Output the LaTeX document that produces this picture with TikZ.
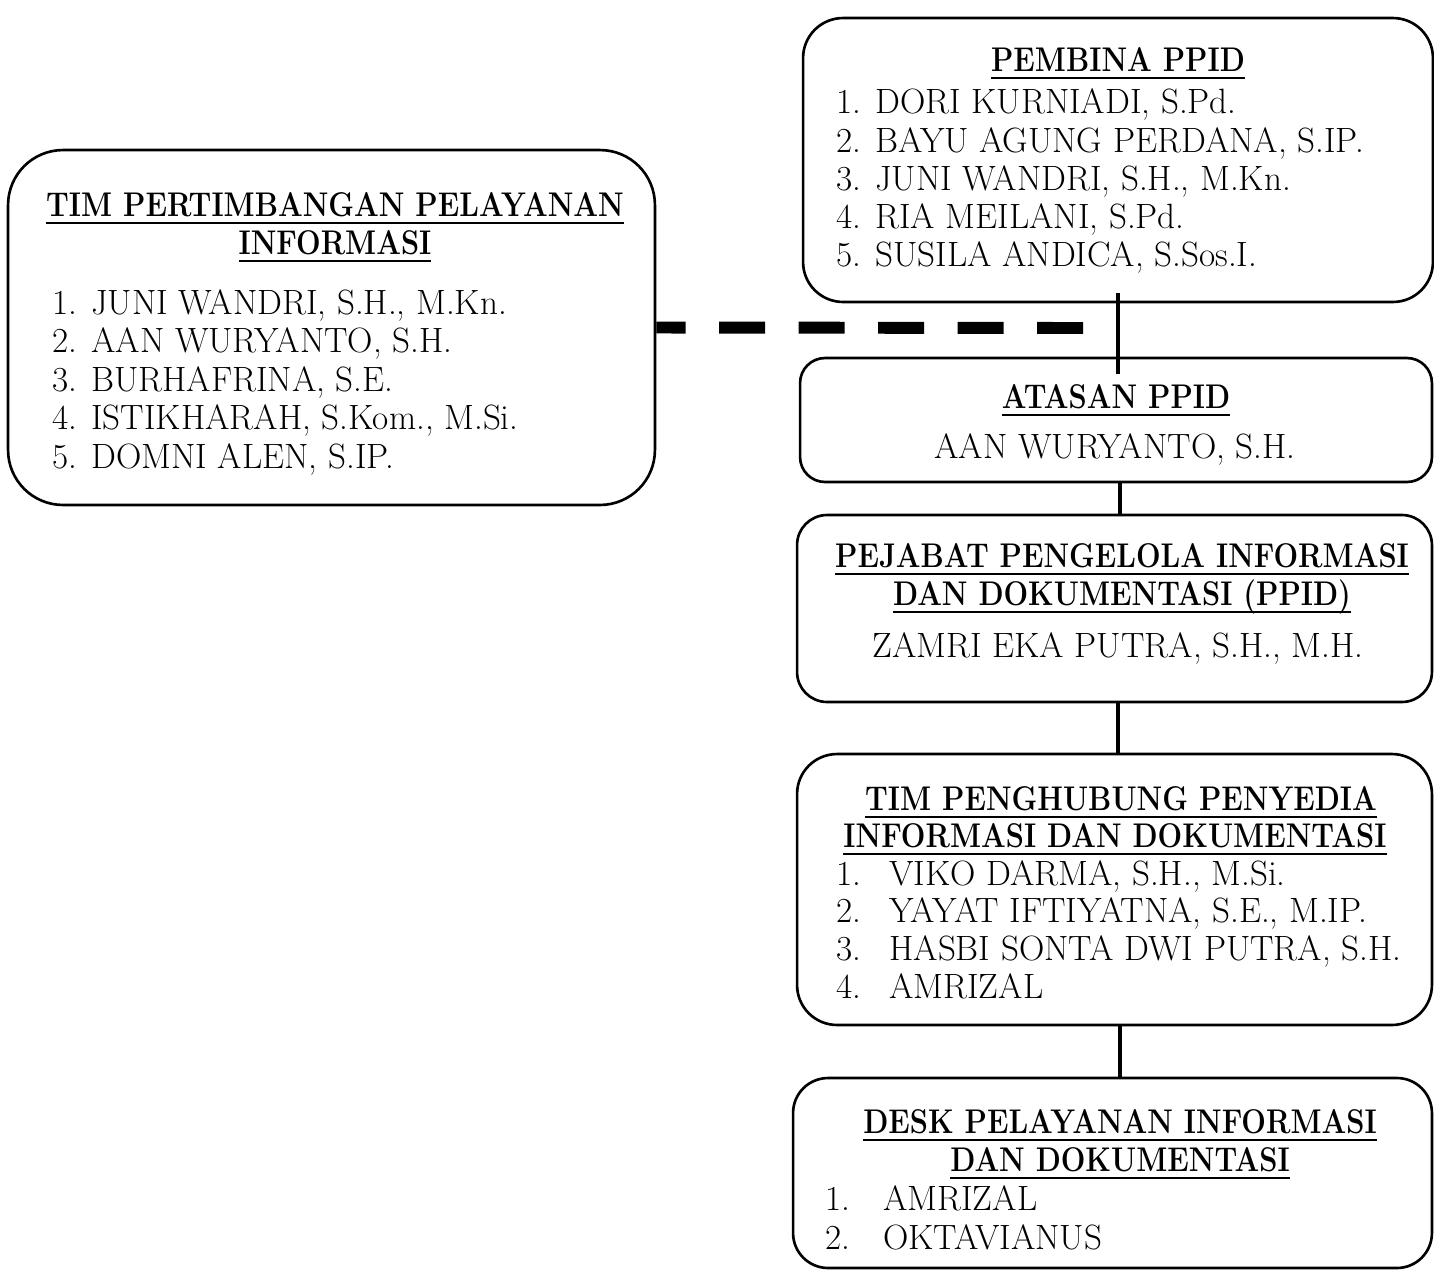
\documentclass[tikz,border=0pt]{standalone}
\usepackage{tikz}
\newcommand{\headline}[1]{\scalebox{0.85}[1]{\setbox0=\hbox{#1}\rlap{\rule[-4.5pt]{\wd0}{1.1pt}}\box0}}
\begin{document}
\begin{tikzpicture}[x=0.02cm, y=-0.02cm,
		box_style/.style={draw=black, line width=1.5pt, rounded corners=#1, inner sep=0pt},
		head_style/.style={font=\fontsize{19.5}{22}\selectfont\bfseries, anchor=base, inner sep=0pt},
		item_style/.style={font=\fontsize{20}{22}\selectfont, anchor=base west, inner sep=0pt},
		link_style/.style={draw=black, line width=2.6pt},
		dash_style/.style={draw=black, line width=6.8pt, dash pattern=on 0.92cm off 0.67cm}]
		
		\useasboundingbox (0,0) rectangle (1434,1272);
		
		% boxes
		\node[box_style=0.8cm, minimum width=12.6cm, minimum height=5.68cm] (pembina) at (1118,160) {};
		\node[box_style=1.1cm, minimum width=12.94cm, minimum height=7.1cm] (tim) at (331.5,327.5) {};
		\node[box_style=0.5cm, minimum width=12.64cm, minimum height=2.48cm] (atasan) at (1116,420) {};
		\node[box_style=0.6cm, minimum width=12.7cm, minimum height=3.74cm] (ppid) at (1114.5,608.5) {};
		\node[box_style=0.8cm, minimum width=12.7cm, minimum height=5.42cm] (penghubung) at (1114.5,889.5) {};
		\node[box_style=0.7cm, minimum width=12.78cm, minimum height=3.8cm] (desk) at (1112.5,1173) {};
		
		% pembina
		\node[head_style] (pembina_t) at (1118,71) {\headline{PEMBINA PPID}};
		\node[item_style] (pembina_1) at (836,113) {1. DORI KURNIADI, S.Pd.};
		\node[item_style] (pembina_2) at (836,152) {2. BAYU AGUNG PERDANA, S.IP.};
		\node[item_style] (pembina_3) at (836,190) {3. JUNI WANDRI, S.H., M.Kn.};
		\node[item_style] (pembina_4) at (836,228) {4. RIA MEILANI, S.Pd.};
		\node[item_style] (pembina_5) at (836,266) {5. SUSILA ANDICA, S.Sos.I.};
		
		% tim pertimbangan
		\node[head_style] (tim_t1) at (335,216) {\headline{TIM PERTIMBANGAN PELAYANAN}};
		\node[head_style] (tim_t2) at (335,254) {\headline{INFORMASI}};
		\node[item_style] (tim_1) at (52,314) {1. JUNI WANDRI, S.H., M.Kn.};
		\node[item_style] (tim_2) at (52,352) {2. AAN WURYANTO, S.H.};
		\node[item_style] (tim_3) at (52,391) {3. BURHAFRINA, S.E.};
		\node[item_style] (tim_4) at (52,429) {4. ISTIKHARAH, S.Kom., M.Si.};
		\node[item_style] (tim_5) at (52,468) {5. DOMNI ALEN, S.IP.};
		
		% atasan
		\node[head_style] (atasan_t) at (1116,408) {\headline{ATASAN PPID}};
		\node[item_style, anchor=base] (atasan_1) at (1115,458) {AAN WURYANTO, S.H.};
		
		% ppid
		\node[head_style] (ppid_t1) at (1122,567) {\headline{PEJABAT PENGELOLA INFORMASI}};
		\node[head_style] (ppid_t2) at (1122,605) {\headline{DAN DOKUMENTASI (PPID)}};
		\node[item_style, anchor=base] (ppid_1) at (1118,657) {ZAMRI EKA PUTRA, S.H., M.H.};
		
		% tim penghubung
		\node[head_style] (penghubung_t1) at (1121,810) {\headline{TIM PENGHUBUNG PENYEDIA}};
		\node[head_style] (penghubung_t2) at (1115,847) {\headline{INFORMASI DAN DOKUMENTASI}};
		\node[item_style] (penghubung_1) at (836,885) {\makebox[1.06cm][l]{1.}VIKO DARMA, S.H., M.Si.};
		\node[item_style] (penghubung_2) at (836,922) {\makebox[1.06cm][l]{2.}YAYAT IFTIYATNA, S.E., M.IP.};
		\node[item_style] (penghubung_3) at (836,960) {\makebox[1.06cm][l]{3.}HASBI SONTA DWI PUTRA, S.H.};
		\node[item_style] (penghubung_4) at (836,998) {\makebox[1.06cm][l]{4.}AMRIZAL};
		
		% desk
		\node[head_style] (desk_t1) at (1120,1133) {\headline{DESK PELAYANAN INFORMASI}};
		\node[head_style] (desk_t2) at (1120,1171) {\headline{DAN DOKUMENTASI}};
		\node[item_style] (desk_1) at (825,1210) {\makebox[1.16cm][l]{1.}AMRIZAL};
		\node[item_style] (desk_2) at (825,1249) {\makebox[1.16cm][l]{2.}OKTAVIANUS};
		
		% connectors
		\coordinate (dashend) at (1083,328);
		\draw[dash_style] (dashend) -- (tim.east);
		\draw[link_style, shorten <=-0.2cm, shorten >=-0.34cm] (pembina.south) -- (pembina.south |- atasan.north);
		\draw[link_style] ([xshift=0.08cm]atasan.south) -- ([xshift=0.08cm]atasan.south |- ppid.north);
		\draw[link_style] ([xshift=0.07cm]ppid.south) -- ([xshift=0.07cm]ppid.south |- penghubung.north);
		\draw[link_style] ([xshift=0.11cm]penghubung.south) -- ([xshift=0.11cm]penghubung.south |- desk.north);
		
\end{tikzpicture}
\end{document}
